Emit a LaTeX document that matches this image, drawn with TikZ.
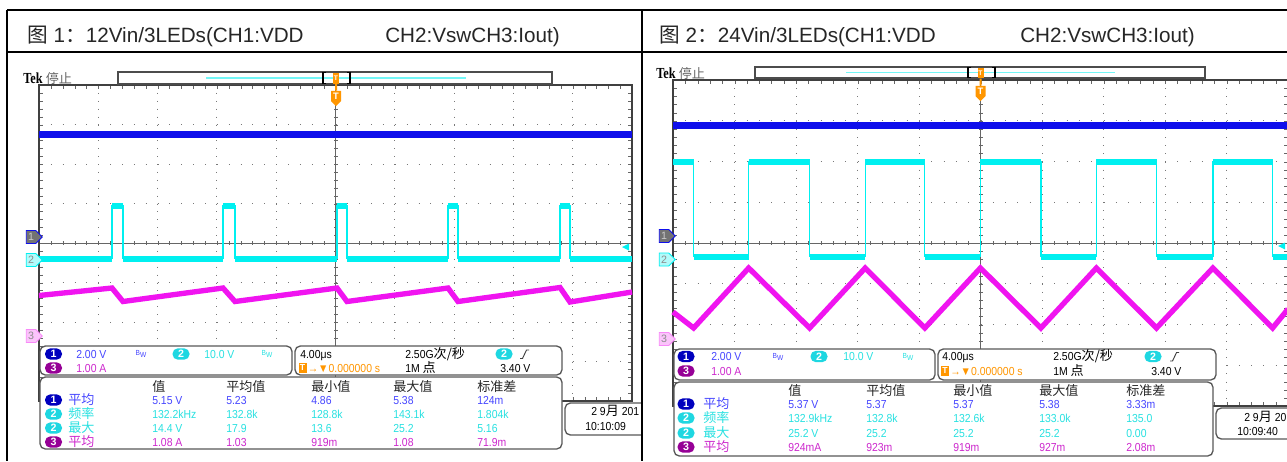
\documentclass[tikz,border=0pt]{standalone}
\usepackage{fontspec}
\setmainfont{Liberation Sans}
\newfontfamily\cjk{Noto Sans CJK SC}
\newfontfamily\tekfont[FakeStretch=0.9]{Liberation Sans}
\newfontfamily\tekserif[FakeStretch=0.8]{Liberation Serif}
\usetikzlibrary{positioning,shapes.symbols}

\definecolor{chatrace}{RGB}{15,15,235}
\definecolor{chatext}{RGB}{70,70,255}
\definecolor{chadot}{RGB}{0,0,190}
\definecolor{chbtrace}{RGB}{0,240,240}
\definecolor{chbtext}{RGB}{40,225,225}
\definecolor{chbdot}{RGB}{30,215,225}
\definecolor{chctrace}{RGB}{240,20,240}
\definecolor{chctext}{RGB}{205,40,205}
\definecolor{chcdot}{RGB}{150,0,150}
\definecolor{tekorange}{RGB}{255,150,0}
\definecolor{tekgrid}{RGB}{120,120,120}

\newcommand{\zh}[1]{{\cjk\fontsize{9.8}{11}\selectfont #1}}

% Tek graticule, 10 x 8 divisions: x0, y0, x1, y1 (px)
\newcommand{\graticule}[4]{%
  \pgfmathsetmacro{\gdx}{(#3-#1)/10}%
  \pgfmathsetmacro{\gdy}{(#4-#2)/8}%
  \pgfmathsetmacro{\gxc}{(#1+#3)/2}%
  \pgfmathsetmacro{\gyc}{(#2+#4)/2}%
  \pgfmathsetmacro{\hoff}{\gdx/5*0.75-0.75}%
  \pgfmathsetmacro{\voff}{\gdy/5*0.75-0.75}%
  \foreach \k in {1,...,9}
    \draw[griddot, dash pattern=on 0.75pt off \voff pt] ({#1+\k*\gdx},#2) -- ({#1+\k*\gdx},#4);
  \foreach \k in {1,...,7}
    \draw[griddot, dash pattern=on 0.75pt off \hoff pt] (#1,{#2+\k*\gdy}) -- (#3,{#2+\k*\gdy});
  \draw[gridaxis] (\gxc,#2) -- (\gxc,#4) (#1,\gyc) -- (#3,\gyc);
  \draw[gridtick, dash pattern=on 0.75pt off \hoff pt] (#1,\gyc) -- (#3,\gyc)
    (#1,{#2+2}) -- (#3,{#2+2}) (#1,{#4-2}) -- (#3,{#4-2});
  \draw[gridtick, dash pattern=on 0.75pt off \voff pt] (\gxc,#2) -- (\gxc,#4)
    ({#1+2},#2) -- ({#1+2},#4) ({#3-2},#2) -- ({#3-2},#4);
  \draw[gridframe] (#1,#2) rectangle (#3,#4);
}

\begin{document}
\begin{tikzpicture}[x=0.75pt,y=-0.75pt,
  frame/.style={line width=1.9pt,black},
  title/.style={anchor=base west,inner sep=0pt,font=\fontsize{15.5}{18}\selectfont,text=black!85},
  griddot/.style={tekgrid,line width=0.75pt},
  gridaxis/.style={black!60,line width=0.75pt},
  gridtick/.style={black!60,line width=3pt},
  gridframe/.style={black!75,line width=1pt},
  chaband/.style={chatrace,line width=5.25pt},
  chbedge/.style={chbtrace,line width=0.9pt},
  chbband/.style={chbtrace,line width=4.5pt},
  chcband/.style={chctrace,line width=4pt,line join=miter},
  chmark/.style={signal,signal to=east,draw,line width=0.6pt,inner sep=0pt,
    minimum width=12pt,minimum height=9.75pt,font=\fontsize{8}{8}\selectfont},
  levelmark/.style={fill=chbtrace},
  tek/.style={anchor=base west,inner sep=0pt,font=\tekserif\bfseries\fontsize{11.5}{11.5}\selectfont},
  recbar/.style={draw=black!70,line width=0.8pt},
  recline/.style={chbtrace!55,line width=1.2pt},
  bracket/.style={black,line width=1.3pt},
  trigtag/.style={fill=tekorange,inner sep=0pt,minimum width=4.5pt,minimum height=8pt,
    text=white,font=\bfseries\fontsize{5}{5}\selectfont},
  trigmark/.style={signal,signal to=south,fill=tekorange,inner sep=0pt,minimum width=7.5pt,
    minimum height=9.75pt,text=white,font=\bfseries\fontsize{7}{7}\selectfont},
  trigline/.style={tekorange,line width=1.5pt},
  tekbox/.style={draw=black!65,fill=white,line width=1pt,rounded corners=4pt},
  meas/.style={anchor=base west,inner sep=0pt,font=\tekfont\fontsize{8.7}{10}\selectfont},
  chdot/.style={rounded corners=4pt,inner sep=0pt,minimum width=12.75pt,minimum height=8.5pt,
    text=white,font=\bfseries\fontsize{8}{8}\selectfont},
  tbox/.style={fill=tekorange,inner sep=0pt,minimum width=6pt,minimum height=7.5pt,
    text=white,font=\bfseries\fontsize{6.5}{6.5}\selectfont},
  bw/.style={inner sep=0pt,font=\tekfont\fontsize{5.5}{5.5}\selectfont},
  edgeicon/.style={black!75,line width=0.7pt}]
\useasboundingbox (0,0) rectangle (1287,461);
\fill[white] (0,0) rectangle (1287,461);

% ---------------- left scope (12 V) ----------------
\begin{scope}
\clip (7,52) rectangle (641,461);
\graticule{39}{85}{632}{401}
% traces
\draw[chaband] (39,134.5) -- (632,134.5);
\draw[chbedge] (39,258.5) foreach \rs/\fl in {112/123,223/235,337/347,448/458,560/570}
  { -- (\rs,258.5) -- (\rs,205.5) -- (\fl,205.5) -- (\fl,258.5)} -- (632,258.5);
\foreach \p/\q in {39/112,123/223,235/337,347/448,458/560,570/632}
  \draw[chbband] (\p,258.5) -- (\q,258.5);
\foreach \p/\q in {112/123,223/235,337/347,448/458,560/570}
  \draw[chbband] (\p,205.5) -- (\q,205.5);
\draw[chcband] (39,295.5) -- (112,288) -- (123,301.5) -- (223,288) -- (235,301.5) -- (337,288)
  -- (347,301.5) -- (448,288) -- (458,301.5) -- (560,287.5) -- (570,302) -- (632,292);
% channel markers
\node[chmark, draw=chatrace, fill=black!55, text=black!20] (mkA1) at (31,237) {1};
\node[chmark, draw=chbtrace, fill=chbtrace!30, text=black!45] (mkA2) at (31,260) {2};
\node[chmark, draw=chctrace!50, fill=chctrace!25, text=black!45] (mkA3) at (31,336) {3};
\fill[levelmark] (622,247) -- (629,243.5) -- (629,250.5) -- cycle;
% header
\node[tek] (tekA) at (23,83) {Tek};
\node[base right=2pt of tekA, inner sep=0pt, text=black!60] (stopA) {\zh{停止}};
\draw[recbar] (118,72) rectangle (552,84);
\draw[recline] (206,78) -- (466,78);
\draw[bracket] (326,72.5) -- (323,72.5) -- (323,83.5) -- (326,83.5)
  (347,72.5) -- (350,72.5) -- (350,83.5) -- (347,83.5);
\node[trigtag] (tgA) at (336,78.5) {T};
\node[trigmark] (tmA) at (336,96) {T};
\draw[trigline] (tgA) -- (tmA);
% readout boxes
\draw[tekbox] (40,346) rectangle (292,375);
\draw[tekbox] (295,346) rectangle (562,375);
\draw[tekbox] (40,377) rectangle (562,449);
\draw[tekbox] (565,403) rectangle (660,435);
\node[chdot, fill=chadot] (sA1) at (53.5,354) {1};
\node[meas, text=chatext] (vA1) at (76,358.2) {2.00 V};
\node[bw, text=chatext] (bwA1) at (141,354) {B\raisebox{-1.5pt}{W}};
\node[chdot, fill=chbdot] (sA2) at (181,354) {2};
\node[meas, text=chbtext] (vA2) at (204,358.2) {10.0 V};
\node[bw, text=chbtext] (bwA2) at (267,354) {B\raisebox{-1.5pt}{W}};
\node[chdot, fill=chcdot] (sA3) at (53.5,368) {3};
\node[meas, text=chctext] (vA3) at (76,372.2) {1.00 A};
\node[meas] (hzA) at (300,358.2) {4.00μs};
\node[meas] (srA) at (405,358.2) {2.50G\zh{次/秒}};
\node[chdot, fill=chbdot] (tsA) at (504,354) {2};
\draw[edgeicon] (520,358.5) -- (522.5,358.5) -- (526.5,350) -- (529,350);
\node[tbox] (tA) at (302.5,368) {T};
\node[meas, text=tekorange] (dlA) at (307.5,372.2) {→▼0.000000 s};
\node[meas] (rlA) at (405,372.2) {1M \zh{点}};
\node[meas] (lvA) at (500,372.2) {3.40 V};
\foreach \x/\h [count=\i] in {152/值,226/平均值,311/最小值,393/最大值,477/标准差}
  \node[meas, text=black!85] (hdA\i) at (\x,391.5) {\zh{\h}};
\foreach \n/\lab/\tc/\dc/\y/\va/\vb/\vc/\vd/\ve in {
    1/平均/chatext/chadot/400/5.15 V/5.23/4.86/5.38/124m,
    2/频率/chbtext/chbdot/414/132.2kHz/132.8k/128.8k/143.1k/1.804k,
    2/最大/chbtext/chbdot/428/14.4 V/17.9/13.6/25.2/5.16,
    3/平均/chctext/chcdot/442/1.08 A/1.03/919m/1.08/71.9m}{
  \node[chdot, fill=\dc] (mdA\y) at (53.5,\y) {\n};
  \node[meas, text=\tc] (mlA\y) at (68,\y+4.2) {\zh{\lab}};
  \foreach \x/\v [count=\i] in {152/\va,226/\vb,311/\vc,393/\vd,477/\ve}
    \node[meas, text=\tc] (mvA\y\i) at (\x,\y+4.2) {\v};
}
\node[meas] (dtA) at (591,415.2) {2 9\zh{月} 201};
\node[meas] (tiA) at (585,430.2) {10:10:09};
\end{scope}

% ---------------- right scope (24 V) ----------------
\begin{scope}
\clip (643,52) rectangle (1287,461);
\graticule{673}{80}{1288}{406}
% traces
\draw[chaband] (673,125.5) -- (1288,125.5);
\draw[chbedge] (673,161.5) -- (693.6,161.5) -- (693.6,256.5)
  foreach \rs/\fl in {748.7/809.6,865.2/924.8,980.4/1040.9,1096.4/1156.5,1212.9/1272.6}
  { -- (\rs,256.5) -- (\rs,161.5) -- (\fl,161.5) -- (\fl,256.5)} -- (1288,256.5);
\foreach \p/\q in {673/693.6,748.7/809.6,865.2/924.8,980.4/1040.9,1096.4/1156.5,1212.9/1272.6}
  \draw[chbband] (\p,161.5) -- (\q,161.5);
\foreach \p/\q in {693.6/748.7,809.6/865.2,924.8/980.4,1040.9/1096.4,1156.5/1212.9,1272.6/1288}
  \draw[chbband] (\p,256.5) -- (\q,256.5);
\draw[chcband] (673,312) -- (693.6,328) -- (748.7,268) -- (809.6,328) -- (865.2,268)
  -- (924.8,328) -- (980.4,268) -- (1040.9,328) -- (1096.4,268) -- (1156.5,328)
  -- (1212.9,268) -- (1272.6,328) -- (1288,309);
% channel markers
\node[chmark, draw=chatrace, fill=black!55, text=black!20] (mkB1) at (664,236) {1};
\node[chmark, draw=chbtrace, fill=chbtrace!30, text=black!45] (mkB2) at (664,259.5) {2};
\node[chmark, draw=chctrace!50, fill=chctrace!25, text=black!45] (mkB3) at (664,339) {3};
\fill[levelmark] (1278,246) -- (1285,242.5) -- (1285,249.5) -- cycle;
% header
\node[tek] (tekB) at (656,78) {Tek};
\node[base right=2pt of tekB, inner sep=0pt, text=black!60] (stopB) {\zh{停止}};
\draw[recbar] (755,67) rectangle (1205,78);
\draw[recline] (846,72.5) -- (1115,72.5);
\draw[bracket] (971,67.5) -- (968,67.5) -- (968,77.5) -- (971,77.5)
  (992,67.5) -- (995,67.5) -- (995,77.5) -- (992,77.5);
\node[trigtag] (tgB) at (980.5,73) {T};
\node[trigmark] (tmB) at (980.5,91) {T};
\draw[trigline] (tgB) -- (tmB);
% readout boxes
\draw[tekbox] (674,349) rectangle (935,380);
\draw[tekbox] (938,349) rectangle (1216,380);
\draw[tekbox] (674,382) rectangle (1213,456);
\draw[tekbox] (1216,408) rectangle (1310,439);
\node[chdot, fill=chadot] (sB1) at (686,356.5) {1};
\node[meas, text=chatext] (vB1) at (711,360.7) {2.00 V};
\node[bw, text=chatext] (bwB1) at (778,356.5) {B\raisebox{-1.5pt}{W}};
\node[chdot, fill=chbdot] (sB2) at (819,356.5) {2};
\node[meas, text=chbtext] (vB2) at (843,360.7) {10.0 V};
\node[bw, text=chbtext] (bwB2) at (908,356.5) {B\raisebox{-1.5pt}{W}};
\node[chdot, fill=chcdot] (sB3) at (686,371) {3};
\node[meas, text=chctext] (vB3) at (711,375.2) {1.00 A};
\node[meas] (hzB) at (942,360.7) {4.00μs};
\node[meas] (srB) at (1053,360.7) {2.50G\zh{次/秒}};
\node[chdot, fill=chbdot] (tsB) at (1153,356.5) {2};
\draw[edgeicon] (1170,361) -- (1172.5,361) -- (1176.5,352.5) -- (1179,352.5);
\node[tbox] (tB) at (945,370.5) {T};
\node[meas, text=tekorange] (dlB) at (950,375) {→▼0.000000 s};
\node[meas] (rlB) at (1053,375) {1M \zh{点}};
\node[meas] (lvB) at (1151,375) {3.40 V};
\foreach \x/\h [count=\i] in {788/值,866/平均值,953/最小值,1039/最大值,1126/标准差}
  \node[meas, text=black!85] (hdB\i) at (\x,395) {\zh{\h}};
\foreach \n/\lab/\tc/\dc/\y/\va/\vb/\vc/\vd/\ve in {
    1/平均/chatext/chadot/404/5.37 V/5.37/5.37/5.38/3.33m,
    2/频率/chbtext/chbdot/418/132.9kHz/132.8k/132.6k/133.0k/135.0,
    2/最大/chbtext/chbdot/433/25.2 V/25.2/25.2/25.2/0.00,
    3/平均/chctext/chcdot/447/924mA/923m/919m/927m/2.08m}{
  \node[chdot, fill=\dc] (mdB\y) at (686,\y) {\n};
  \node[meas, text=\tc] (mlB\y) at (703,\y+4.2) {\zh{\lab}};
  \foreach \x/\v [count=\i] in {788/\va,866/\vb,953/\vc,1039/\vd,1126/\ve}
    \node[meas, text=\tc] (mvB\y\i) at (\x,\y+4.2) {\v};
}
\node[meas] (dtB) at (1244,421.2) {2 9\zh{月} 20};
\node[meas] (tiB) at (1237,435.2) {10:09:40};
\end{scope}

% ---------------- table ----------------
\node[title] (ttlA) at (27,42) {{\cjk 图} 1{\cjk ：}12Vin/3LEDs(CH1:VDD};
\node[title] (ttlAb) at (385,42) {CH2:VswCH3:Iout)};
\node[title] (ttlB) at (659,42) {{\cjk 图} 2{\cjk ：}24Vin/3LEDs(CH1:VDD};
\node[title] (ttlBb) at (1020,42) {CH2:VswCH3:Iout)};
\draw[frame] (7,10) -- (1287,10);
\draw[frame] (7,52) -- (1287,52);
\draw[frame] (7,10) -- (7,461);
\draw[frame] (642,10) -- (642,461);
\end{tikzpicture}
\end{document}
